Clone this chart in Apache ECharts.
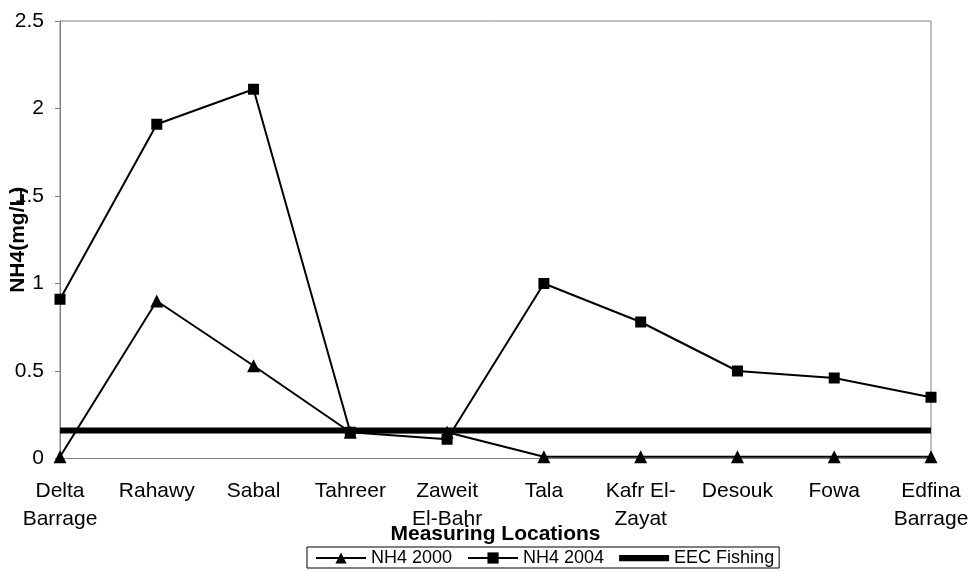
<!DOCTYPE html>
<html>
<head>
<meta charset="utf-8">
<script src="https://cdn.jsdelivr.net/npm/echarts@6/dist/echarts.min.js"></script>
<style>
  html, body { margin: 0; padding: 0; background: #fff; }
  #chart { width: 974px; height: 571px; }
</style>
</head>
<body>
<div id="chart"></div>
<script>
// Measuring locations along the river (line breaks used for the axis labels)
const locations = [
  'Delta\nBarrage', 'Rahawy', 'Sabal', 'Tahreer', 'Zaweit\nEl-Bahr',
  'Tala', 'Kafr El-\nZayat', 'Desouk', 'Fowa', 'Edfina\nBarrage'
];

// Ammonium concentrations, mg/L
const nh4Year2000 = [0.01, 0.90, 0.53, 0.15, 0.15, 0.01, 0.01, 0.01, 0.01, 0.01];
const nh4Year2004 = [0.91, 1.91, 2.11, 0.15, 0.11, 1.00, 0.78, 0.50, 0.46, 0.35];

// EEC fishing-water limit, mg/L
const eecFishingLimit = 0.16;
const eecFishing = locations.map(() => eecFishingLimit);

// Y axis tick setup
const yMin = 0;
const yMax = 2.5;
const yStep = 0.5;

const font = 'Arial, "Liberation Sans", sans-serif';
const chart = echarts.init(document.getElementById('chart'), null, { renderer: 'canvas' });

chart.setOption({
  animation: false,
  backgroundColor: '#ffffff',
  textStyle: { fontFamily: font, color: '#000' },
  grid: {
    left: 60, right: 43, top: 21, bottom: 112.5,
    outerBoundsMode: 'none',
    containLabel: false,
    show: true, borderColor: '#808080', borderWidth: 1
  },
  xAxis: {
    type: 'category',
    data: locations,
    boundaryGap: false,
    name: 'Measuring Locations',
    nameLocation: 'middle',
    nameGap: 65,
    nameMoveOverlap: false,
    nameTextStyle: {
      fontFamily: font, fontSize: 21, fontWeight: 'bold', color: '#000',
      verticalAlign: 'top'
    },
    axisLine: { lineStyle: { color: '#808080', width: 1 } },
    axisTick: { show: false },
    axisLabel: {
      interval: 0, margin: 19, fontSize: 21, lineHeight: 28,
      color: '#000', fontFamily: font, hideOverlap: false
    },
    splitLine: { show: false }
  },
  yAxis: {
    type: 'value',
    min: yMin, max: yMax, interval: yStep,
    name: 'NH4(mg/L)',
    nameLocation: 'middle',
    nameGap: 31,
    nameRotate: 90,
    nameMoveOverlap: false,
    nameTextStyle: { fontFamily: font, fontSize: 21, fontWeight: 'bold', color: '#000' },
    axisLine: { show: true, lineStyle: { color: '#808080', width: 1 } },
    axisTick: { show: true, length: 5, lineStyle: { color: '#808080' } },
    axisLabel: { margin: 16, fontSize: 21, color: '#000', fontFamily: font },
    splitLine: { show: false }
  },
  legend: {
    left: 307, top: 547,
    orient: 'horizontal',
    borderColor: '#000', borderWidth: 1,
    padding: [2, 5, 1, 8],
    itemGap: 15,
    itemWidth: 50, itemHeight: 14,
    textStyle: { fontFamily: font, fontSize: 18, color: '#000' },
    data: [
      'NH4 2000',
      'NH4 2004',
      { name: 'EEC Fishing', icon: 'path://M0,0L48,0L48,6L0,6Z' }
    ]
  },
  series: [
    {
      name: 'NH4 2000',
      type: 'line',
      data: nh4Year2000,
      symbol: 'triangle',
      symbolSize: 13,
      showAllSymbol: true,
      lineStyle: { color: '#000', width: 2 },
      itemStyle: { color: '#000' },
      z: 3
    },
    {
      name: 'NH4 2004',
      type: 'line',
      data: nh4Year2004,
      symbol: 'rect',
      symbolSize: 11,
      showAllSymbol: true,
      lineStyle: { color: '#000', width: 2 },
      itemStyle: { color: '#000' },
      z: 3
    },
    {
      name: 'EEC Fishing',
      type: 'line',
      data: eecFishing,
      symbol: 'none',
      lineStyle: { color: '#000', width: 6 },
      itemStyle: { color: '#000' },
      z: 2
    }
  ]
});
</script>
</body>
</html>
